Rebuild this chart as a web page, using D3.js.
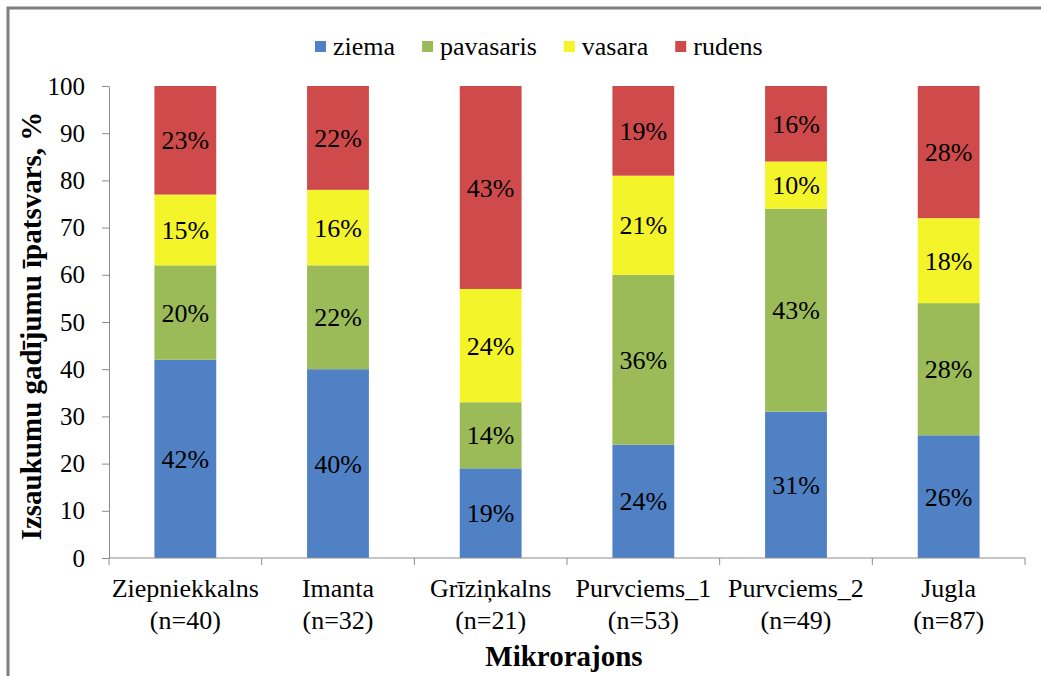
<!DOCTYPE html>
<html>
<head>
<meta charset="utf-8">
<script src="https://cdn.jsdelivr.net/npm/d3@7"></script>
<style>
  body { margin: 0; background: #fff; }
  .axis path, .axis line { stroke: #8c8c8c; }
</style>
</head>
<body>
<div id="chart"></div>
<script>
var categories = ["Ziepniekkalns", "Imanta", "Grīziņkalns", "Purvciems_1", "Purvciems_2", "Jugla"];
var counts = ["(n=40)", "(n=32)", "(n=21)", "(n=53)", "(n=49)", "(n=87)"];
var seasons = ["ziema", "pavasaris", "vasara", "rudens"];
var seasonColors = ["#4f81c4", "#9bbb59", "#f4f42a", "#cf4b4b"];
var ziema = [42, 40, 19, 24, 31, 26];
var pavasaris = [20, 22, 14, 36, 43, 28];
var vasara = [15, 16, 24, 21, 10, 18];
var rudens = [23, 22, 43, 19, 16, 28];
var yTicks = [0, 10, 20, 30, 40, 50, 60, 70, 80, 90, 100];

var FONT = "'Liberation Serif', 'Times New Roman', Times, serif";

var svg = d3.select("#chart")
        .append("svg")
        .attr("width", 1041)
        .attr("height", 676),
    margin = {top: 86, right: 16, bottom: 118, left: 109},
    width = 1041 - margin.left - margin.right,
    height = 676 - margin.top - margin.bottom,
    g = svg.append("g").attr("transform", "translate(" + margin.left + "," + margin.top + ")");

// frame (cropped: only top and left visible)
svg.append("rect")
    .attr("x", 8)
    .attr("y", 8)
    .attr("width", 1060)
    .attr("height", 700)
    .attr("fill", "none")
    .attr("stroke", "#7f7f7f")
    .attr("stroke-width", 3);

var x = d3.scaleBand()
    .domain(categories)
    .range([0, width])
    .paddingInner(0.595)
    .paddingOuter(0.2975);

var y = d3.scaleLinear()
    .domain([0, 100])
    .range([height, 0]);

var color = d3.scaleOrdinal().domain(seasons).range(seasonColors);

// build stacked table
var table = categories.map(function(c, i) {
    return {cat: c, ziema: ziema[i], pavasaris: pavasaris[i], vasara: vasara[i], rudens: rudens[i]};
});
var stacked = d3.stack().keys(seasons)(table);

var layers = g.selectAll(".layer")
    .data(stacked)
    .enter()
    .append("g")
    .attr("class", "layer")
    .attr("fill", function(d) { return color(d.key); });

layers.selectAll("rect")
    .data(function(d) { return d; })
    .enter()
    .append("rect")
    .attr("x", function(d) { return x(d.data.cat); })
    .attr("width", x.bandwidth())
    .attr("y", function(d) { return y(d[1]); })
    .attr("height", function(d) { return y(d[0]) - y(d[1]); });

layers.selectAll("text")
    .data(function(d) { return d; })
    .enter()
    .append("text")
    .attr("x", function(d) { return x(d.data.cat) + x.bandwidth() / 2; })
    .attr("y", function(d) { return y((d[0] + d[1]) / 2); })
    .attr("dy", "0.35em")
    .attr("text-anchor", "middle")
    .style("font-family", FONT)
    .style("font-size", "26px")
    .style("fill", "#000")
    .text(function(d) { return (d[1] - d[0]) + "%"; });

// y axis
var yAxis = g.append("g")
    .attr("class", "axis")
    .call(d3.axisLeft(y).tickValues(yTicks).tickSize(7).tickPadding(17).tickSizeOuter(0));
yAxis.selectAll("text")
    .style("font-family", FONT)
    .style("font-size", "25px")
    .style("fill", "#000");

// x axis with ticks at category boundaries
var bounds = d3.range(categories.length + 1).map(function(i) { return i * width / categories.length; });
var xAxis = g.append("g")
    .attr("class", "axis")
    .attr("transform", "translate(0," + height + ")");
xAxis.append("line")
    .attr("x1", 0).attr("x2", width)
    .attr("y1", 0).attr("y2", 0);
xAxis.selectAll(".tick")
    .data(bounds)
    .enter()
    .append("line")
    .attr("x1", function(d) { return d; })
    .attr("x2", function(d) { return d; })
    .attr("y1", 0).attr("y2", 7);

var catLabels = g.selectAll(".cat")
    .data(categories)
    .enter()
    .append("text")
    .attr("class", "cat")
    .attr("text-anchor", "middle")
    .attr("x", function(d) { return x(d) + x.bandwidth() / 2; })
    .attr("y", height + 39)
    .style("font-family", FONT)
    .style("font-size", "26px");
catLabels.append("tspan").text(function(d) { return d; });
catLabels.append("tspan")
    .attr("x", function(d) { return x(d) + x.bandwidth() / 2; })
    .attr("dy", 32)
    .text(function(d, i) { return counts[i]; });

// axis titles
svg.append("text")
    .attr("x", margin.left + width / 2 - 3)
    .attr("y", 666)
    .attr("text-anchor", "middle")
    .style("font-family", FONT)
    .style("font-size", "29px")
    .style("font-weight", "bold")
    .text("Mikrorajons");

svg.append("text")
    .attr("transform", "translate(41," + (margin.top + height / 2 + 4) + ") rotate(-90)")
    .attr("text-anchor", "middle")
    .style("font-family", FONT)
    .style("font-size", "29px")
    .style("font-weight", "bold")
    .text("Izsaukumu gadījumu īpatsvars, %");

// legend
var legend = svg.append("g").attr("transform", "translate(315,0)");
var lx = 0;
seasons.forEach(function(s) {
    var item = legend.append("g").attr("transform", "translate(" + lx + ",0)");
    item.append("rect")
        .attr("x", 0).attr("y", 41)
        .attr("width", 11).attr("height", 11)
        .attr("fill", color(s));
    var t = item.append("text")
        .attr("x", 18).attr("y", 55)
        .style("font-family", FONT)
        .style("font-size", "26px")
        .text(s);
    lx += 18 + t.node().getComputedTextLength() + 27;
});
</script>
</body>
</html>
